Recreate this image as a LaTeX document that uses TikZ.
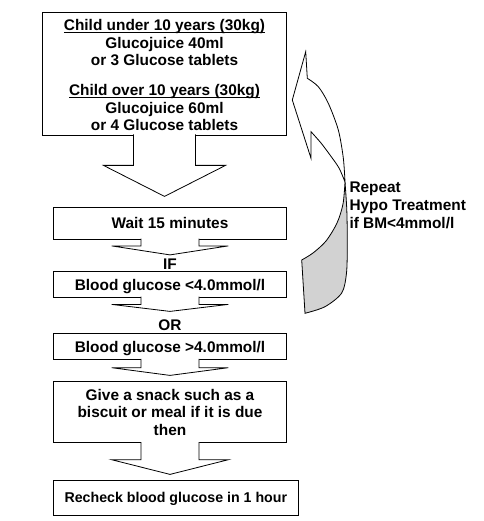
\documentclass[tikz,border=0pt]{standalone}
\usepackage{fontspec}
\setmainfont{Liberation Sans}
\usepackage{tikz}

% underline that sits close under the baseline
\newcommand{\ulline}[1]{\setbox0\hbox{#1}\rlap{\rule[-2.4pt]{\wd0}{1pt}}\box0}

\tikzset{
  box/.style={draw, fill=white, line width=0.8pt, inner sep=0pt, align=center, minimum width=233.4pt},
  oneline/.style={text depth=0pt},
  blockarrow/.style={draw, fill=white, line width=0.8pt, line join=miter},
}

\begin{document}
\begin{tikzpicture}[x=1pt, y=-1pt, font=\bfseries\fontsize{15.4}{17.5}\selectfont]
  \useasboundingbox (0,0) rectangle (483,521);

  % boxes down the middle
  \node[box, minimum width=244pt, minimum height=123pt] (dose) at (164.5,73.5)
    {\rule{0pt}{15pt}\ulline{Child under 10 years (30kg)}\\ Glucojuice 40ml\\ or 3 Glucose tablets\\[12.5pt]
     \ulline{Child over 10 years (30kg)}\\ Glucojuice 60ml\\ or 4 Glucose tablets};
  \node[box, oneline, minimum height=32pt] (wait) at (170,223.3) {Wait 15 minutes};
  \node (iflabel) at (170,264.7) {IF};
  \node[box, oneline, minimum height=25.6pt] (low) at (170,284.5) {Blood glucose <4.0mmol/l};
  \node (orlabel) at (170,325.3) {OR};
  \node[box, oneline, minimum height=26pt] (high) at (170,346.5) {Blood glucose >4.0mmol/l};
  \node[box, minimum height=61pt] (snack) at (170,412.2)
    {Give a snack such as a\\ biscuit or meal if it is due\\ then};
  \node[box, oneline, minimum width=245pt, minimum height=35pt,
        font=\bfseries\fontsize{14.2}{17}\selectfont] (recheck) at (175.8,497.5)
    {Recheck blood glucose in 1 hour};

  % block arrows
  \draw[blockarrow] ([xshift=-31pt,yshift=1pt]dose.south) -- ++(0,31) -- ++(-30,0)
    -- ++(61,31) -- ++(61,-31) -- ++(-30,0) -- ++(0,-31);
  \draw[blockarrow] ([xshift=-29pt,yshift=1pt]wait.south) -- ++(0,7.2) -- ++(-29.3,0)
    -- ++(58.3,9) -- ++(58.3,-9) -- ++(-29.3,0) -- ++(0,-7.2);
  \draw[blockarrow] ([xshift=-29pt,yshift=1pt]low.south) -- ++(0,7.7) -- ++(-29.3,0)
    -- ++(58.3,7) -- ++(58.3,-7) -- ++(-29.3,0) -- ++(0,-7.7);
  \draw[blockarrow] ([xshift=-29pt,yshift=1pt]high.south) -- ++(0,8.8) -- ++(-29.3,0)
    -- ++(58.3,7.7) -- ++(58.3,-7.7) -- ++(-29.3,0) -- ++(0,-8.8);
  \draw[blockarrow] ([xshift=-29pt,yshift=1pt]snack.south) -- ++(0,17.6) -- ++(-29.3,0)
    -- ++(58.3,14.7) -- ++(58.3,-14.7) -- ++(-29.3,0) -- ++(0,-17.6);

  % curved arrow back up
  \draw[fill=gray!35, line width=0.8pt, line join=miter]
    plot[smooth] coordinates {(345,182) (343,204) (337,223) (326,241) (313,253) (301.7,260)}
    -- (305,313.3)
    -- plot[smooth] coordinates {(305,313.3) (325,306.7) (341.7,293) (346.5,273) (347.3,243) (346.8,210) (345,182)}
    -- cycle;
  \draw[fill=white, line width=0.8pt, line join=miter]
    (307.3,78.3) -- (305.7,51.7) -- (292.3,100) -- (311,158.3) -- (311,131.7)
    -- plot[smooth] coordinates {(311,131.7) (321,143) (330,155) (339,168) (345,182)}
    -- plot[smooth] coordinates {(345,182) (343.3,158) (338.3,130) (328.3,103.3) (318.3,86.7) (307.3,78.3)}
    -- cycle;
  \node[anchor=north west, inner sep=0pt, align=left,
        font=\bfseries\fontsize{15.4}{18}\selectfont] (repeatnote) at (349.3,181.7)
    {Repeat\\ Hypo Treatment\\ if BM<4mmol/l};
\end{tikzpicture}
\end{document}
